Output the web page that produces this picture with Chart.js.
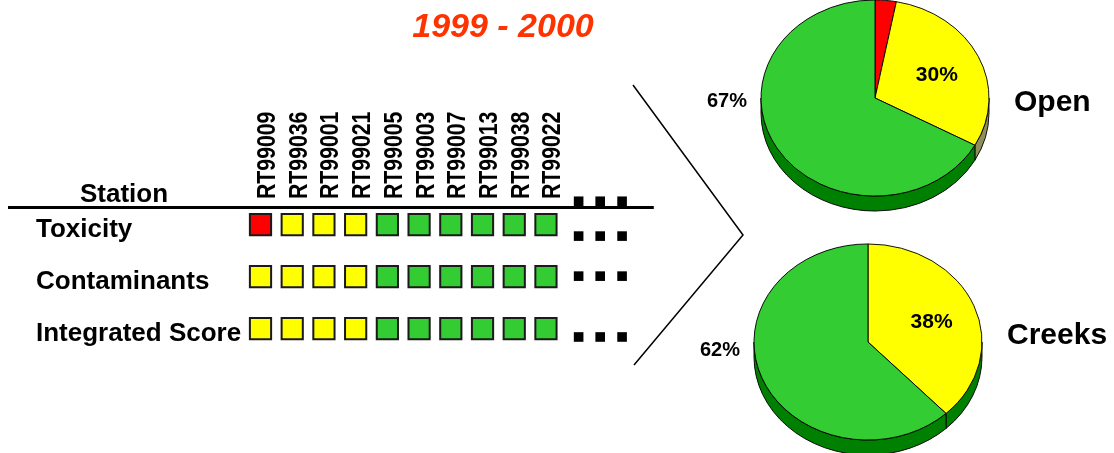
<!DOCTYPE html>
<html>
<head>
<meta charset="utf-8">
<script src="https://cdn.jsdelivr.net/npm/chart.js@4.4.1/dist/chart.umd.min.js"></script>
<style>
  html, body { margin: 0; padding: 0; background: #fff; overflow: hidden; }
  #wrap { position: relative; width: 1114px; height: 453px; }
  canvas { position: absolute; left: 0; top: 0; }
</style>
</head>
<body>
<div id="wrap">
  <canvas id="grid" width="1114" height="453"></canvas>
  <canvas id="pieOpen" width="1114" height="453"></canvas>
  <canvas id="pieCreeks" width="1114" height="453"></canvas>
</div>
<script>
// ============ DATA ============
const title = "1999 - 2000";
const stations = ["RT99009", "RT99036", "RT99001", "RT99021", "RT99005",
                  "RT99003", "RT99007", "RT99013", "RT99038", "RT99022"];
const indicators = ["Toxicity", "Contaminants", "Integrated Score"];
// R = red, Y = yellow, G = green
const toxicity     = ["R", "Y", "Y", "Y", "G", "G", "G", "G", "G", "G"];
const contaminants = ["Y", "Y", "Y", "Y", "G", "G", "G", "G", "G", "G"];
const integrated   = ["Y", "Y", "Y", "Y", "G", "G", "G", "G", "G", "G"];
// "..." markers after the last station (x in station units, y in row units)
const moreX = [10.03, 10.71, 11.4];
const moreY = [-0.45, 0.22, 0.99, 2.16];

const pieClasses = ["Red", "Yellow", "Green"];
const openPct = [3, 30, 67];
const creeksPct = [0, 38, 62];

const FONT = "'Liberation Sans', Arial, sans-serif";
const colorOf = { R: "#ff0000", Y: "#ffff00", G: "#33cc33" };
const pieColors = ["#ff0000", "#ffff00", "#33cc33"];

// ============ GRID ============
const gridDecor = {
  id: "gridDecor",
  afterDraw(chart) {
    const { ctx, chartArea, scales: { x, y } } = chart;
    ctx.save();
    ctx.fillStyle = "#000";

    // rule under station names
    ctx.strokeStyle = "#000";
    ctx.lineWidth = 3;
    ctx.beginPath();
    ctx.moveTo(8, chartArea.top);
    ctx.lineTo(chartArea.right, chartArea.top);
    ctx.stroke();

    // station names, vertical
    ctx.font = "bold 25px " + FONT;
    ctx.textAlign = "left";
    ctx.textBaseline = "alphabetic";
    stations.forEach((s, i) => {
      ctx.save();
      ctx.translate(x.getPixelForValue(i) + 14.5, chartArea.top - 8.5);
      ctx.rotate(-Math.PI / 2);
      ctx.scale(0.85, 1);
      ctx.fillText(s, 0, 0);
      ctx.restore();
    });

    // row labels
    ctx.font = "bold 26px " + FONT;
    indicators.forEach((name, r) => {
      ctx.fillText(name, 36, y.getPixelForValue(r) + 12);
    });
    ctx.textAlign = "center";
    ctx.fillText("Station", 124, chartArea.top - 5.5);

    // title
    ctx.font = "italic bold 34px " + FONT;
    ctx.fillStyle = "#ff3300";
    ctx.fillText(title, 503, 37);

    // bracket lines towards the pies
    ctx.strokeStyle = "#000";
    ctx.lineWidth = 1.5;
    ctx.beginPath();
    ctx.moveTo(633, 85);
    ctx.lineTo(743, 235);
    ctx.lineTo(634, 365);
    ctx.stroke();
    ctx.restore();
  }
};

const rows = [toxicity, contaminants, integrated];
const gridSets = rows.map((codes, r) => ({
  label: indicators[r],
  data: codes.map((c, i) => ({ x: i, y: r })),
  pointStyle: "rect",
  pointRadius: 15,
  pointBackgroundColor: codes.map((c) => colorOf[c]),
  pointBorderColor: "#1a1a1a",
  pointBorderWidth: 2,
  clip: false
}));
gridSets.push({
  label: "more",
  data: moreY.flatMap((yy) => moreX.map((xx) => ({ x: xx, y: yy }))),
  pointStyle: "rect",
  pointRadius: 6.8,
  pointBackgroundColor: "#000",
  pointBorderWidth: 0,
  clip: false
});

new Chart(document.getElementById("grid"), {
  type: "scatter",
  data: { datasets: gridSets },
  options: {
    responsive: false,
    animation: false,
    events: [],
    layout: { padding: { left: 244.64, right: 460.2, top: 207.5, bottom: 82.74 } },
    scales: {
      x: { type: "linear", min: -0.5, max: 12.4, display: false },
      y: { type: "linear", min: -0.33, max: 2.8, reverse: true, display: false }
    },
    plugins: { legend: { display: false }, tooltip: { enabled: false } }
  },
  plugins: [gridDecor]
});

// ============ PIES ============
const pie3d = {
  id: "pie3d",
  beforeDatasetsDraw(chart, args, opts) {
    const { ctx } = chart;
    const arcs = chart.getDatasetMeta(0).data;
    const p0 = arcs[0].getProps(["x", "y", "outerRadius"], true);
    const cx = p0.x, cy = p0.y, r = p0.outerRadius;
    const depth = opts.depth / opts.tilt;
    ctx.save();
    ctx.translate(cx, cy);
    ctx.scale(1, opts.tilt);
    ctx.translate(-cx, -cy);
    // side wall, front half only
    arcs.forEach((a, i) => {
      const p = a.getProps(["startAngle", "endAngle"], true);
      const a0 = Math.max(p.startAngle, 0);
      const a1 = Math.min(p.endAngle, Math.PI);
      if (a1 <= a0) return;
      ctx.beginPath();
      ctx.arc(cx, cy, r, a0, a1);
      ctx.lineTo(cx + r * Math.cos(a1), cy + depth + r * Math.sin(a1));
      ctx.arc(cx, cy + depth, r, a1, a0, true);
      ctx.closePath();
      ctx.fillStyle = opts.sides[i];
      ctx.fill();
      ctx.lineWidth = 1;
      ctx.strokeStyle = "#000";
      ctx.stroke();
    });
  },
  afterDatasetsDraw(chart, args, opts) {
    const { ctx } = chart;
    ctx.restore();
    const arcs = chart.getDatasetMeta(0).data;
    const values = chart.data.datasets[0].data;
    ctx.save();
    ctx.fillStyle = "#000";
    ctx.textAlign = "center";
    ctx.textBaseline = "middle";
    let cx = 0, cy = 0, r = 0;
    arcs.forEach((a, i) => {
      const p = a.getProps(["x", "y", "startAngle", "endAngle", "outerRadius"], true);
      cx = p.x; cy = p.y; r = p.outerRadius;
      const v = values[i];
      if (v < 5) return;
      if (v > 50) {
        ctx.font = "bold 20px " + FONT;
        ctx.fillText(v + "%", cx - r - 34, cy + opts.outsideDy);
      } else {
        const mid = (p.startAngle + p.endAngle) / 2;
        ctx.font = "bold 21px " + FONT;
        ctx.fillText(v + "%", cx + Math.cos(mid) * r * 0.6,
                     cy + Math.sin(mid) * r * 0.55 * opts.tilt);
      }
    });
    ctx.font = "bold 30px " + FONT;
    ctx.textAlign = "left";
    ctx.fillText(opts.name, cx + r + 25, cy + opts.nameDy);
    ctx.restore();
  }
};

function makePie(id, values, padding, name, sides, outsideDy, nameDy) {
  return new Chart(document.getElementById(id), {
    type: "pie",
    data: {
      labels: pieClasses,
      datasets: [{
        data: values,
        backgroundColor: pieColors,
        borderColor: "#000",
        borderWidth: 1,
        clip: false
      }]
    },
    options: {
      responsive: false,
      animation: false,
      events: [],
      radius: 114,
      layout: { padding },
      plugins: {
        legend: { display: false },
        tooltip: { enabled: false },
        pie3d: { tilt: 0.86, depth: 15, name, sides, outsideDy, nameDy }
      }
    },
    plugins: [pie3d]
  });
}

makePie("pieOpen", openPct, { left: 700, right: 64, top: 0, bottom: 257 }, "Open",
        ["#990000", "#8f8f5c", "#008000"], 3, 5);
makePie("pieCreeks", creeksPct, { left: 700, right: 78, top: 231, bottom: 0 }, "Creeks",
        ["#008000", "#008000", "#008000"], 8, -6);
</script>
</body>
</html>
